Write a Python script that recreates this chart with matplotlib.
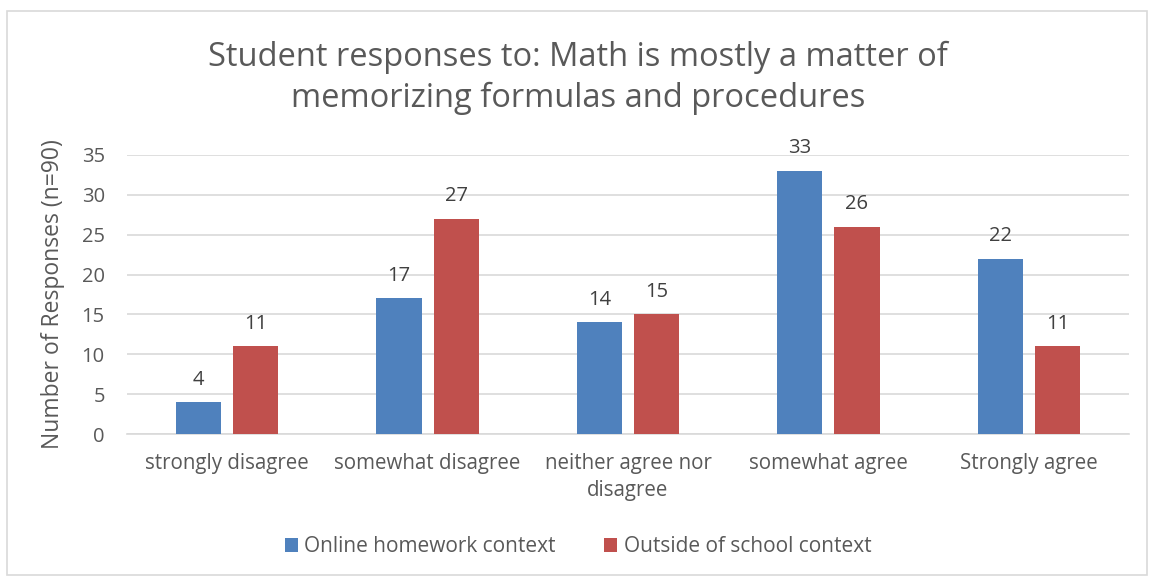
import matplotlib
matplotlib.use("Agg")
import matplotlib.pyplot as plt
from matplotlib.patches import Rectangle
import numpy as np

categories = ["strongly disagree", "somewhat disagree", "neither agree nor\ndisagree",
              "somewhat agree", "Strongly agree"]
online_homework = [4, 17, 14, 33, 22]
outside_school = [11, 27, 15, 26, 11]
series_names = ["Online homework context", "Outside of school context"]
yticks = [0, 5, 10, 15, 20, 25, 30, 35]

plt.rcParams["font.family"] = ["Open Sans", "DejaVu Sans"]
text_color = "#595959"
blue = "#4F81BD"
red = "#C0504D"

fig = plt.figure(figsize=(11.56, 5.81), dpi=100)
ax = fig.add_axes([127 / 1156, 1 - 434 / 581, (1129 - 127) / 1156, (434 - 155) / 581])

# chart border
fig.patches.append(Rectangle((7 / 1156, 6 / 581), 1140 / 1156, 564 / 581,
                             transform=fig.transFigure, fill=False,
                             edgecolor="#D9D9D9", linewidth=1.2))

x = np.arange(len(categories)) + 0.5
w = 0.225
off = 0.1425
b1 = ax.bar(x - off, online_homework, w, color=blue, label=series_names[0], zorder=3)
b2 = ax.bar(x + off, outside_school, w, color=red, label=series_names[1], zorder=3)

for bars, vals in ((b1, online_homework), (b2, outside_school)):
    for r, v in zip(bars, vals):
        ax.annotate(str(v), (r.get_x() + r.get_width() / 2, v), xytext=(0, 9),
                    textcoords="offset points", ha="center", va="bottom",
                    fontsize=14.5, color="#404040")

ax.set_xlim(0, len(categories))
ax.set_ylim(0, 35)
ax.set_yticks(yticks)
ax.yaxis.grid(True, color="#D9D9D9", linewidth=1.2, zorder=0)
ax.set_xticks(x)
ax.set_xticklabels(categories, fontsize=14.8, color=text_color, linespacing=1.35)
ax.tick_params(axis="y", labelsize=14.5, labelcolor=text_color, length=0, pad=16)
ax.tick_params(axis="x", length=0, pad=14)
for s in ("top", "right", "left"):
    ax.spines[s].set_visible(False)
ax.spines["bottom"].set_color("#D9D9D9")
ax.spines["bottom"].set_linewidth(1.2)

ax.set_ylabel("Number of Responses (n=90)", fontsize=16.5, color=text_color, labelpad=12)

fig.text(0.5, 1 - 78 / 581, "Student responses to: Math is mostly a matter of\nmemorizing formulas and procedures",
         ha="center", va="center", fontsize=23.5, color=text_color, linespacing=1.3)

fig.legend(handles=[b1, b2], labels=series_names, loc="center",
           bbox_to_anchor=(0.5, 1 - 547 / 581), ncol=2, frameon=False,
           fontsize=15, labelcolor=text_color, handlelength=0.65, handleheight=0.65,
           handletextpad=0.3, columnspacing=2.3)

fig.savefig("out.png", dpi=100)
